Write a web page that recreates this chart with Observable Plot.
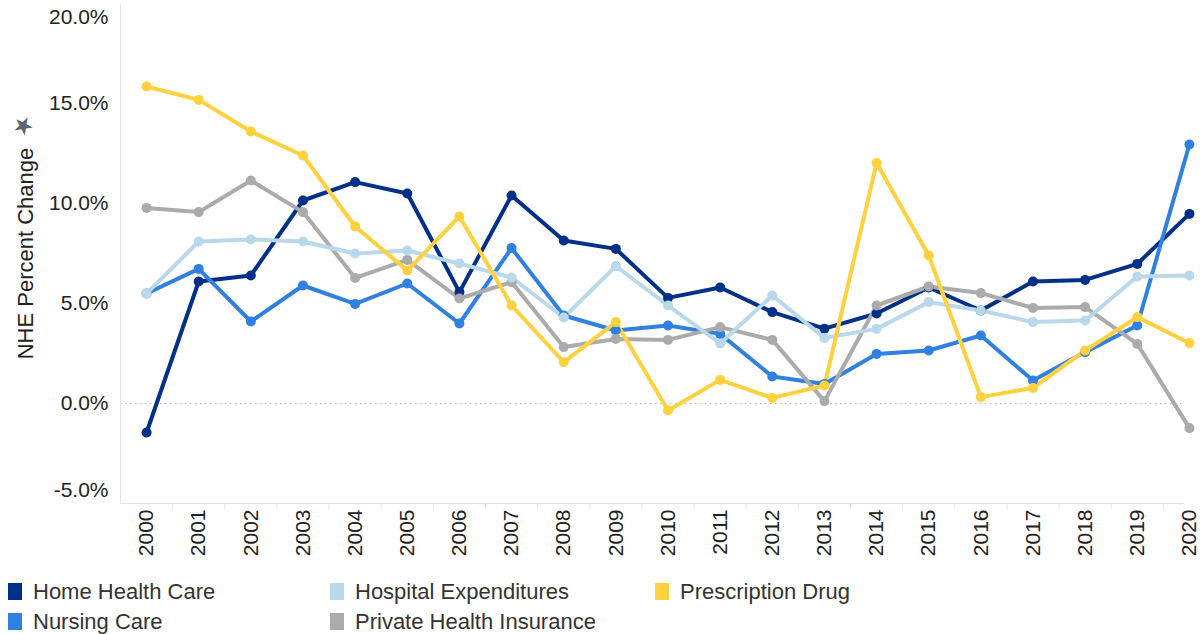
<!DOCTYPE html>
<html>
<head>
<meta charset="utf-8">
<script src="https://cdn.jsdelivr.net/npm/d3@7"></script>
<script src="https://cdn.jsdelivr.net/npm/@observablehq/plot@0.6"></script>
<style>
  html, body { margin: 0; padding: 0; background: #fff; overflow: hidden; }
  body { font-family: Arial, "Liberation Sans", sans-serif; width: 1203px; }
  #legend { display: grid; grid-template-columns: 322px 325px auto; grid-auto-rows: 30px;
            padding: 23px 0 0 8px; font-size: 22px; color: #333; }
  .item { display: flex; align-items: center; height: 17px; }
  .sw { width: 14px; height: 17px; margin-right: 11px; flex: none; }
</style>
</head>
<body>
<div id="chart"></div>
<div id="legend"></div>
<script>
const years = d3.range(2000, 2021);
const yTicks = [-5, 0, 5, 10, 15, 20];

const seriesNames = ["Home Health Care", "Hospital Expenditures", "Prescription Drug", "Nursing Care", "Private Health Insurance"];
const seriesColors = ["#003087", "#B9D8EB", "#FFD13F", "#2F80E0", "#ABABAB"];

const homeHealth   = [-1.45, 6.1, 6.4, 10.15, 11.07, 10.5, 5.57, 10.4, 8.15, 7.73, 5.28, 5.8, 4.57, 3.74, 4.5, 5.8, 4.65, 6.1, 6.18, 6.98, 9.48];
const hospital     = [5.5, 8.1, 8.2, 8.1, 7.5, 7.65, 7.0, 6.3, 4.3, 6.87, 4.9, 3.0, 5.4, 3.28, 3.73, 5.07, 4.65, 4.07, 4.15, 6.35, 6.4];
const prescription = [15.85, 15.18, 13.6, 12.4, 8.85, 6.65, 9.35, 4.9, 2.07, 4.07, -0.35, 1.18, 0.28, 0.9, 12.02, 7.4, 0.32, 0.78, 2.65, 4.32, 3.02];
const nursing      = [5.5, 6.73, 4.1, 5.9, 4.98, 6.0, 4.0, 7.77, 4.4, 3.65, 3.9, 3.48, 1.35, 0.98, 2.48, 2.65, 3.4, 1.15, 2.57, 3.9, 12.95];
const privateIns   = [9.78, 9.57, 11.15, 9.57, 6.28, 7.18, 5.25, 6.07, 2.82, 3.23, 3.18, 3.82, 3.18, 0.12, 4.9, 5.85, 5.52, 4.78, 4.82, 2.98, -1.23];

const valuesByName = {
  "Home Health Care": homeHealth,
  "Hospital Expenditures": hospital,
  "Prescription Drug": prescription,
  "Nursing Care": nursing,
  "Private Health Insurance": privateIns
};
// drawing order (bottom to top)
const drawOrder = ["Home Health Care", "Nursing Care", "Private Health Insurance", "Hospital Expenditures", "Prescription Drug"];

const data = drawOrder.flatMap(name => valuesByName[name].map((v, i) => ({series: name, year: years[i], value: v})));

const fmt = d => d.toFixed(1) + "%";
const font = "Arial, 'Liberation Sans', sans-serif";

const chart = Plot.plot({
  width: 1203,
  height: 560,
  marginTop: 3,
  marginBottom: 57,
  marginLeft: 120,
  style: {fontFamily: font, fontSize: "21px", color: "#333", background: "#fff", overflow: "visible"},
  x: {domain: [1999.5, 2020.5], range: [120, 1215]},
  y: {domain: [-5, 20]},
  color: {domain: seriesNames, range: seriesColors},
  marks: [
    Plot.ruleY([0], {stroke: "#bbb", strokeDasharray: "1.5,3.5", strokeWidth: 1}),
    Plot.frame({anchor: "left", stroke: "#e4e4e4"}),
    Plot.frame({anchor: "bottom", stroke: "#e4e4e4"}),
    Plot.axisX({ticks: years.slice(0, -1).map(y => y + 0.5), tickSize: 6, stroke: "#e4e4e4", text: null, label: null}),
    Plot.axisX({ticks: years, tickFormat: d => String(d), tickRotate: -90, tickSize: 0, tickPadding: 6, fill: "#222", label: null}),
    Plot.axisY({ticks: yTicks.filter(t => t > -5 && t < 20), tickFormat: fmt, tickSize: 0, tickPadding: 12, fill: "#222", label: null}),
    Plot.axisY({ticks: [20], tickFormat: fmt, tickSize: 0, tickPadding: 12, dy: 14, fill: "#222", label: null}),
    Plot.axisY({ticks: [-5], tickFormat: fmt, tickSize: 0, tickPadding: 12, dy: -13, fill: "#222", label: null}),
    Plot.text(["NHE Percent Change"], {frameAnchor: "left", textAnchor: "middle", rotate: -90, dx: -95, fontSize: 22, fill: "#222"}),
    Plot.text(["★"], {frameAnchor: "left", textAnchor: "middle", rotate: -45, dx: -97, dy: -128, fontSize: 24, fill: "#5d6673"}),
    Plot.line(data, {x: "year", y: "value", z: "series", stroke: "series", strokeWidth: 4, strokeLinejoin: "round"}),
    Plot.dot(data, {x: "year", y: "value", fill: "series", r: 5})
  ]
});
document.getElementById("chart").appendChild(chart);

const legend = document.getElementById("legend");
seriesNames.forEach((name, i) => {
  const item = document.createElement("div");
  item.className = "item";
  const sw = document.createElement("span");
  sw.className = "sw";
  sw.style.background = seriesColors[i];
  item.appendChild(sw);
  item.appendChild(document.createTextNode(name));
  legend.appendChild(item);
});
</script>
</body>
</html>
